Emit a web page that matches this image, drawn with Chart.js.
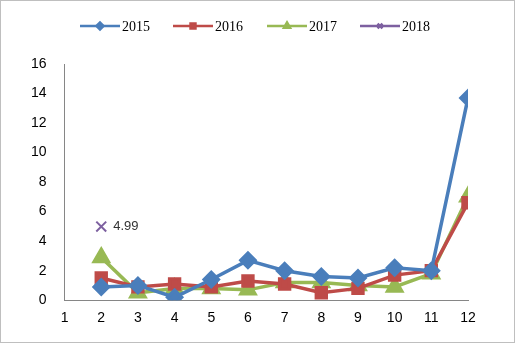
<!DOCTYPE html>
<html>
<head>
<meta charset="utf-8">
<script src="https://cdn.jsdelivr.net/npm/chart.js@4"></script>
<style>
  html, body { margin: 0; padding: 0; background: #fff; }
  #wrap { position: relative; width: 513px; height: 341px; border: 1px solid #bfbfbf; }
</style>
</head>
<body>
<div id="wrap"><canvas id="chart" width="513" height="341"></canvas></div>
<script>
const months = [2, 3, 4, 5, 6, 7, 8, 9, 10, 11, 12];
const series2015 = [0.9, 1.0, 0.2, 1.4, 2.7, 2.0, 1.6, 1.5, 2.2, 2.0, 13.7];
const series2016 = [1.5, 0.9, 1.1, 0.9, 1.3, 1.1, 0.5, 0.8, 1.7, 2.0, 6.6];
const series2017 = [2.9, 0.5, 0.8, 0.8, 0.7, 1.2, 1.2, 1.0, 0.9, 1.8, 7.0];
const series2018 = [4.99];
const xTicks = [1, 2, 3, 4, 5, 6, 7, 8, 9, 10, 11, 12];
const yMax = 16;

function pts(vals) {
    return vals.map((v, i) => ({ x: months[i], y: v }));
}

// line + marker legend along the top
const topLegend = {
    id: 'topLegend',
    afterDraw(chart) {
        const c = chart.ctx;
        const starts = [79, 172, 266, 359];
        c.save();
        chart.data.datasets.forEach((ds, i) => {
            const x0 = starts[i], y = 25;
            c.strokeStyle = ds.borderColor;
            c.lineWidth = 2.5;
            c.beginPath();
            c.moveTo(x0, y);
            c.lineTo(x0 + 40, y);
            c.stroke();
            c.fillStyle = ds.borderColor;
            Chart.helpers.drawPoint(c, {
                pointStyle: ds.pointStyle, radius: 3.5, borderWidth: ds.pointStyle === 'crossRot' ? 2 : 1
            }, x0 + 20, y);
            c.fillStyle = '#000';
            c.font = '14px "Liberation Serif"';
            c.textBaseline = 'middle';
            c.fillText(ds.label, x0 + 42, y + 1);
        });
        c.restore();
    }
};

// value label next to the 2018 point
const pointLabel = {
    id: 'pointLabel',
    afterDatasetsDraw(chart) {
        const meta = chart.getDatasetMeta(3);
        const c = chart.ctx;
        c.save();
        c.fillStyle = '#333';
        c.font = '13px "Liberation Sans"';
        c.textBaseline = 'middle';
        meta.data.forEach((p, i) => {
            c.fillText(series2018[i].toFixed(2), p.x + 12, p.y);
        });
        c.restore();
    }
};

const chart = new Chart(document.getElementById('chart').getContext('2d'), {
    type: 'line',
    data: {
        datasets: [
            {
                label: '2015',
                data: pts(series2015),
                borderColor: '#4a7ebb',
                backgroundColor: '#4a7ebb',
                pointStyle: 'rectRot',
                pointRadius: 7,
                borderWidth: 3.5
            },
            {
                label: '2016',
                data: pts(series2016),
                borderColor: '#be4b48',
                backgroundColor: '#be4b48',
                pointStyle: 'rect',
                pointRadius: 7,
                borderWidth: 3.5
            },
            {
                label: '2017',
                data: pts(series2017),
                borderColor: '#98b954',
                backgroundColor: '#98b954',
                pointStyle: 'triangle',
                pointRadius: 8,
                borderWidth: 3.5
            },
            {
                label: '2018',
                data: pts(series2018),
                borderColor: '#7d60a0',
                backgroundColor: '#7d60a0',
                pointStyle: 'crossRot',
                pointRadius: 7,
                pointBorderWidth: 2,
                borderWidth: 3.5
            }
        ]
    },
    options: {
        responsive: false,
        animation: false,
        layout: { padding: { top: 63, right: 46, left: 18, bottom: 10 } },
        plugins: {
            legend: { display: false },
            tooltip: { enabled: false }
        },
        scales: {
            x: {
                type: 'linear',
                min: 1,
                max: 12,
                grid: { display: false, drawTicks: true, tickLength: 5, color: '#868686' },
                border: { color: '#868686', width: 1 },
                afterBuildTicks: (axis) => { axis.ticks = xTicks.map(v => ({ value: v })); },
                ticks: { color: '#000', font: { family: 'Liberation Sans', size: 14 }, padding: 5 }
            },
            y: {
                min: 0,
                max: yMax,
                grid: { display: false, drawTicks: true, tickLength: 6, color: '#868686' },
                border: { color: '#868686', width: 1 },
                ticks: { stepSize: 2, color: '#000', font: { family: 'Liberation Sans', size: 14 }, padding: 12 }
            }
        }
    },
    plugins: [topLegend, pointLabel]
});
</script>
</body>
</html>
